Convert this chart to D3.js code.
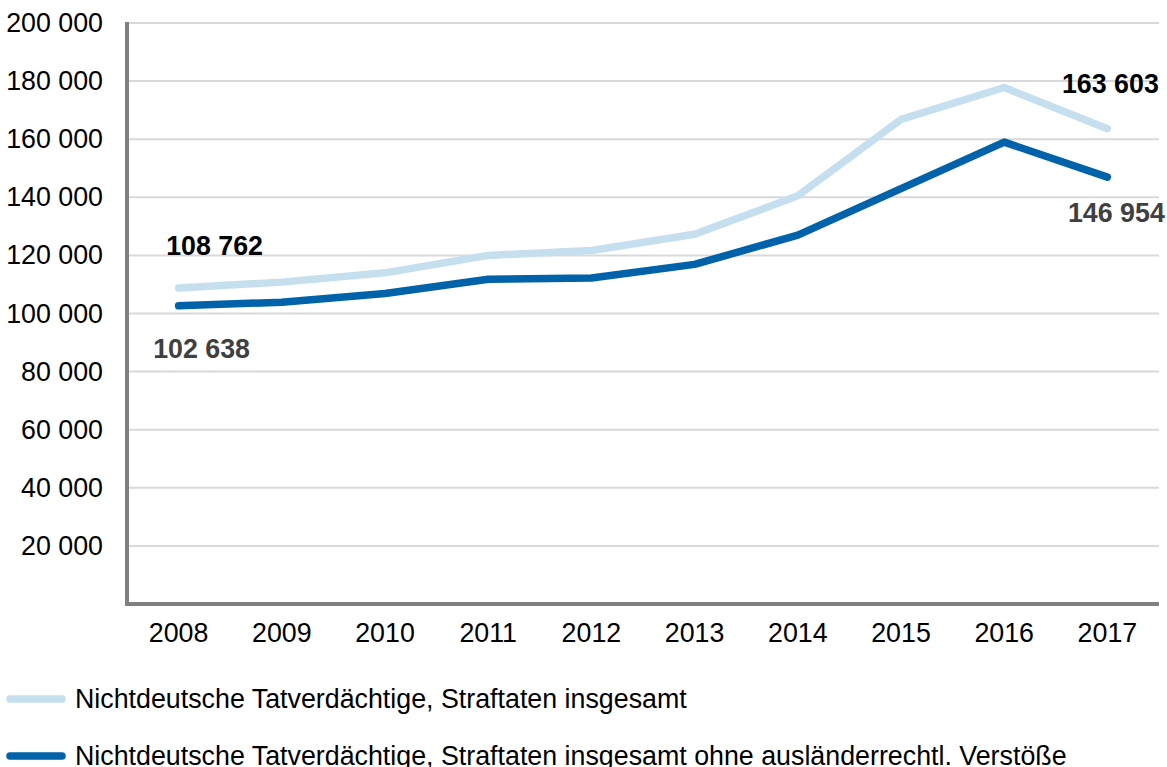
<!DOCTYPE html>
<html>
<head>
<meta charset="utf-8">
<script src="https://cdn.jsdelivr.net/npm/d3@7"></script>
<style>
	body { margin: 0; background: #fff; }
	text { font-family: "Liberation Sans", Arial, sans-serif; }
</style>
</head>
<body>
<div id="main"></div>
<script>
// data
let years = [2008, 2009, 2010, 2011, 2012, 2013, 2014, 2015, 2016, 2017];
let total = [108762, 110800, 114000, 120000, 121700, 127300, 140500, 166800, 177800, 163603];
let without_aufenthalt = [102638, 103900, 106900, 111800, 112200, 116900, 127000, 143000, 159000, 146954];
let y_ticks = [20000, 40000, 60000, 80000, 100000, 120000, 140000, 160000, 180000, 200000];
let legend_labels = [
	"Nichtdeutsche Tatverdächtige, Straftaten insgesamt",
	"Nichtdeutsche Tatverdächtige, Straftaten insgesamt ohne ausländerrechtl. Verstöße"
];

let width = 1167, height = 767;
let margin = {left: 127, right: 8, top: 23, bottom: 163};
let font_size = "26.8px";
let fmt = function (v) { return d3.format(",")(v).replace(/,/g, " "); };

let svg = d3.select("#main").append("svg")
	.attr("width", width).attr("height", height);

let x = d3.scaleBand().domain(years)
	.range([margin.left, width - margin.right]);
let y = d3.scaleLinear().domain([0, 200000])
	.range([height - margin.bottom, margin.top]);

// gridlines
svg.append("g").selectAll("line")
	.data(y_ticks).enter()
	.append("line")
	.attr("x1", margin.left).attr("x2", width - margin.right)
	.attr("y1", function (d) { return y(d); })
	.attr("y2", function (d) { return y(d); })
	.attr("stroke", "#d9d9d9").attr("stroke-width", 2);

// y axis labels
let y_axis = svg.append("g")
	.attr("transform", "translate(" + margin.left + ",0)")
	.call(d3.axisLeft(y).tickValues(y_ticks).tickSize(0).tickPadding(24).tickFormat(fmt));
y_axis.select(".domain").remove();
y_axis.selectAll("text").style("font-size", font_size).attr("fill", "#000");

// x axis labels
let x_axis = svg.append("g")
	.attr("transform", "translate(0," + y(0) + ")")
	.call(d3.axisBottom(x).tickSize(0).tickPadding(19));
x_axis.select(".domain").remove();
x_axis.selectAll("text").style("font-size", font_size).attr("fill", "#000");

// axis frame lines
svg.append("line")
	.attr("x1", margin.left).attr("x2", margin.left)
	.attr("y1", y(200000) - 1).attr("y2", y(0) + 2)
	.attr("stroke", "#808080").attr("stroke-width", 4);
svg.append("line")
	.attr("x1", margin.left - 2).attr("x2", width - margin.right)
	.attr("y1", y(0)).attr("y2", y(0))
	.attr("stroke", "#808080").attr("stroke-width", 4);

let line = d3.line()
	.x(function (d, i) { return x(years[i]) + x.bandwidth() / 2; })
	.y(function (d) { return y(d); });

let series = [
	{values: total, color: "#c5dfef"},
	{values: without_aufenthalt, color: "#0062a8"}
];

svg.append("g").selectAll("path")
	.data(series).enter()
	.append("path")
	.attr("d", function (d) { return line(d.values); })
	.attr("fill", "none")
	.attr("stroke", function (d) { return d.color; })
	.attr("stroke-width", 7.5)
	.attr("stroke-linecap", "round")
	.attr("stroke-linejoin", "round");

// value labels at the ends
let cx = function (i) { return x(years[i]) + x.bandwidth() / 2; };
let last = years.length - 1;
let labels = [
	{v: total[0], x: cx(0) + 36, y: y(total[0]) - 33, color: "#000"},
	{v: without_aufenthalt[0], x: cx(0) + 23, y: y(without_aufenthalt[0]) + 52, color: "#404040"},
	{v: total[last], x: cx(last) + 3, y: y(total[last]) - 36, color: "#000"},
	{v: without_aufenthalt[last], x: cx(last) + 9, y: y(without_aufenthalt[last]) + 45, color: "#404040"}
];
svg.append("g").selectAll("text")
	.data(labels).enter()
	.append("text")
	.attr("x", function (d) { return d.x; })
	.attr("y", function (d) { return d.y; })
	.attr("text-anchor", "middle")
	.style("font-size", font_size).style("font-weight", "bold")
	.attr("fill", function (d) { return d.color; })
	.text(function (d) { return fmt(d.v); });

// legend
let legend = svg.append("g").selectAll("g")
	.data(series).enter()
	.append("g")
	.attr("transform", function (d, i) { return "translate(0," + (699 + i * 57) + ")"; });
legend.append("line")
	.attr("x1", 10).attr("x2", 62)
	.attr("stroke", function (d) { return d.color; })
	.attr("stroke-width", 7.5).attr("stroke-linecap", "round");
legend.append("text")
	.attr("x", 75).attr("y", 9)
	.style("font-size", font_size).attr("fill", "#000")
	.text(function (d, i) { return legend_labels[i]; });
</script>
</body>
</html>
